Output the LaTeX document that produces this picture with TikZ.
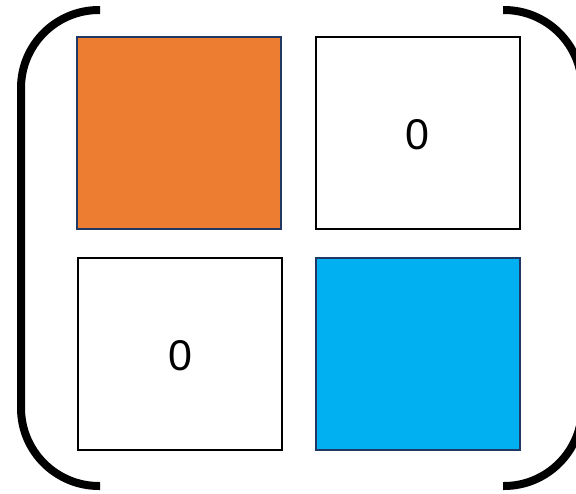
\documentclass[tikz,border=0pt]{standalone}
\usepackage{fontspec}
\setmainfont{Liberation Sans}
\definecolor{cellorange}{HTML}{ED7D31}
\definecolor{cellblue}{HTML}{00B0F0}
\definecolor{cellnavy}{HTML}{203864}
\begin{document}
\begin{tikzpicture}[x=1pt, y=-1pt,
    cell/.style={draw, line width=2pt, minimum width=204pt, minimum height=192pt, inner sep=0pt},
    entry/.style={font=\fontsize{43}{45}\selectfont, inner sep=0pt},
    paren/.style={line width=8pt, rounded corners=78pt}]
    \useasboundingbox (0,0) rectangle (576,493);
    \clip (0,0) rectangle (576,493);
    % bracket
    \draw[paren] (100,10) -- (21,10) -- (21,486) -- (100,486);
    \draw[paren] (503,10) -- (582,10) -- (582,486) -- (503,486);
    % entries
    \node[cell, fill=cellorange, draw=cellnavy] (a11) at (179,133) {};
    \node[cell, fill=white] (a12) at (417.5,133) {};
    \node[cell, fill=white] (a21) at (180,354) {};
    \node[cell, fill=cellblue, draw=cellnavy] (a22) at (418,354) {};
    \node[entry] (z12) at (417.5,135) {0};
    \node[entry] (z21) at (180,356) {0};
  \end{tikzpicture}
\end{document}
